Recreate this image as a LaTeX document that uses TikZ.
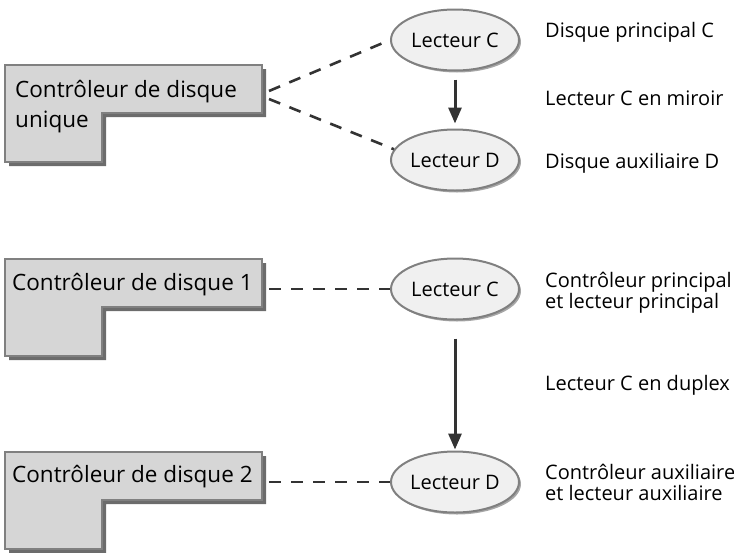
\documentclass[tikz,border=0pt]{standalone}
\usepackage{fontspec}
\setmainfont{Open Sans}
\usepackage{tikz}
\usetikzlibrary{arrows.meta,positioning,shapes.geometric,shadows,calc}

\definecolor{ctlfill}{RGB}{214,214,214}
\definecolor{edgegray}{RGB}{128,128,128}
\definecolor{shadegray}{RGB}{108,108,108}
\definecolor{drivefill}{RGB}{240,240,240}
\definecolor{inkgray}{RGB}{51,51,51}

\begin{document}
\begin{tikzpicture}[
    x=1pt, y=-1pt,
    >=Stealth,
    ctlbox/.style={draw=edgegray, line width=1.8pt, fill=ctlfill,
                   drop shadow={shadow xshift=4pt, shadow yshift=-4pt,
                                fill=shadegray, opacity=1}},
    ctltext/.style={anchor=west, align=left, inner sep=0pt,
                    font=\fontsize{22.5}{30}\selectfont},
    drive/.style={ellipse, draw=edgegray, line width=2pt, fill=drivefill,
                  minimum width=128pt, minimum height=61pt, inner sep=0pt,
                  font=\fontsize{20}{24}\selectfont,
                  drop shadow={shadow xshift=2pt, shadow yshift=-2pt,
                               fill=edgegray!70, opacity=1}},
    note/.style={anchor=west, align=left, inner sep=0pt,
                 font=\fontsize{20}{21}\selectfont},
    link/.style={draw=inkgray, line width=2.6pt, dash pattern=on 12pt off 10pt},
    mirror/.style={draw=inkgray, line width=3pt,
                   -{Triangle[length=16pt, width=13pt]}}
]
    \useasboundingbox (0,0) rectangle (734,552);

    % controller outlines
    \foreach \y in {65,259,452}
        \draw[ctlbox] (5,\y) -- ++(257,0) -- ++(0,48) -- ++(-160,0)
            -- ++(0,49) -- ++(-97,0) -- cycle;

    \node[ctltext] (ctlA) at (15,107) {Contrôleur de disque\\unique};
    \node[ctltext] (ctlB) at (12,285) {Contrôleur de disque 1};
    \node[ctltext] (ctlC) at (12,477) {Contrôleur de disque 2};

    % drives
    \node[drive] (C1) at (455,40)  {Lecteur C};
    \node[drive] (D1) at (455,160) {Lecteur D};
    \node[drive] (C2) at (455,289) {Lecteur C};
    \node[drive] (D2) at (455,482) {Lecteur D};

    % notes
    \node[note] (nC1) at (545,32)  {Disque principal C};
    \node[note] (nM)  at (545,98)  {Lecteur C en miroir};
    \node[note] (nD1) at (545,163) {Disque auxiliaire D};
    \node[note] (nC2) at (545,293) {Contrôleur principal\\et lecteur principal};
    \node[note] (nX)  at (545,385) {Lecteur C en duplex};
    \node[note] (nD2) at (545,482) {Contrôleur auxiliaire\\et lecteur auxiliaire};

    % connectors
    \coordinate (a1) at (269,91);
    \coordinate (a2) at (269,99);
    \coordinate (b1) at (269,289);
    \coordinate (b2) at (269,482);
    \draw[link] (a1) -- (C1.west);
    \draw[link] (a2) -- (D1.170);
    \draw[link] (b1) -- (C2);
    \draw[link] (b2) -- (D2);

    \draw[mirror, shorten <=8pt, shorten >=5pt] (C1) -- (D1);
    \draw[mirror, shorten <=18pt, shorten >=1pt] (C2) -- (D2);
\end{tikzpicture}
\end{document}
